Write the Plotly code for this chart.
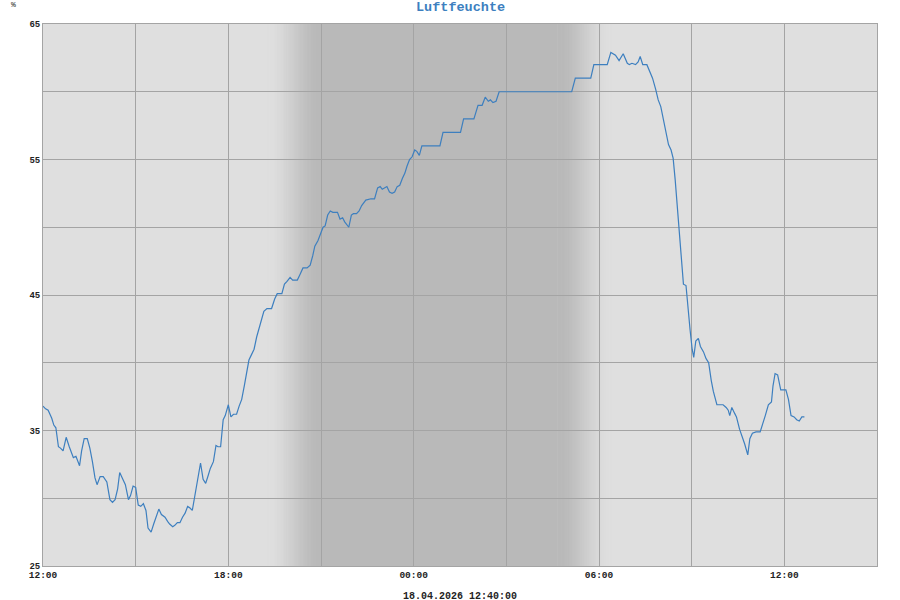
import pandas as pd
import plotly.graph_objects as go

# ---- data ----
start_time = "2026-04-17 12:00"
minutes = [0, 5, 10, 17, 21, 25, 30, 34, 39, 45, 51, 59, 64, 71, 75, 80, 86, 91, 96, 101,
           105, 111, 117, 124, 130, 135, 140, 145, 149, 155, 160, 166, 170, 175, 180, 185,
           190, 195, 200, 204, 210, 215, 221, 225, 230, 237, 242, 246, 252, 256, 261, 266,
           271, 276, 281, 285, 290, 295, 300, 306, 311, 316, 321, 325, 331, 336, 340, 345,
           350, 354, 360, 365, 370, 376, 381, 386, 391, 395, 400, 405, 410, 415, 420, 424,
           429, 435, 444, 450, 455, 464, 469, 474, 480, 485, 494, 499, 505, 513, 519, 524,
           528, 534, 539, 544, 548, 553, 558, 563, 572, 577, 582, 586, 594, 599, 603, 609,
           614, 619, 627, 637, 644, 650, 655, 659, 668, 673, 678, 683, 688, 693, 698, 703,
           707, 712, 717, 722, 726, 731, 736, 771, 777, 811, 817, 837, 845, 853, 859, 865,
           869, 874, 880, 886, 1027, 1034, 1064, 1070, 1096, 1103, 1112, 1119, 1127, 1135,
           1139, 1144, 1151, 1156, 1160, 1165, 1173, 1179, 1184, 1190, 1195, 1200, 1205,
           1210, 1215, 1220, 1224, 1228, 1232, 1236, 1240, 1244, 1249, 1253, 1257, 1261,
           1264, 1268, 1273, 1277, 1283, 1288, 1293, 1298, 1302, 1309, 1315, 1321, 1327,
           1331, 1334, 1338, 1343, 1347, 1353, 1358, 1363, 1369, 1373, 1378, 1385, 1393,
           1398, 1403, 1409, 1415, 1418, 1422, 1427, 1433, 1443, 1448, 1453, 1459, 1464,
           1469, 1474, 1479]
humidity = [36.8, 36.6, 36.5, 35.9, 35.4, 35.2, 33.8, 33.7, 33.5, 34.5, 33.8, 33.0, 33.1, 32.4,
            33.5, 34.4, 34.4, 33.7, 32.7, 31.5, 31.0, 31.6, 31.6, 31.2, 29.9, 29.7, 29.9, 30.7,
            31.9, 31.4, 31.0, 29.9, 30.2, 30.9, 30.8, 29.5, 29.4, 29.6, 29.1, 27.8, 27.5, 28.1,
            28.8, 29.2, 28.8, 28.6, 28.3, 28.1, 27.9, 28.0, 28.2, 28.2, 28.6, 28.9, 29.4, 29.3,
            29.1, 30.3, 31.2, 32.6, 31.4, 31.1, 31.7, 32.2, 32.7, 33.9, 33.8, 33.8, 35.8, 36.1,
            36.9, 36.0, 36.2, 36.2, 36.8, 37.3, 38.3, 39.1, 40.2, 40.6, 41.0, 41.9, 42.6, 43.2,
            43.8, 44.0, 44.0, 44.7, 45.1, 45.1, 45.8, 46.0, 46.3, 46.1, 46.1, 46.5, 47.0, 47.0,
            47.2, 47.9, 48.6, 49.0, 49.5, 50.0, 50.1, 50.9, 51.2, 51.1, 51.1, 50.6, 50.7, 50.4,
            50.0, 50.9, 51.0, 51.0, 51.2, 51.6, 52.0, 52.1, 52.1, 52.9, 53.0, 52.8, 53.0, 52.6,
            52.5, 52.6, 53.0, 53.1, 53.6, 54.0, 54.5, 55.0, 55.2, 55.7, 55.6, 55.3, 56.0, 56.0,
            57.0, 57.0, 58.0, 58.0, 59.0, 59.0, 59.6, 59.3, 59.4, 59.2, 59.3, 60.0, 60.0, 61.0,
            61.0, 62.0, 62.0, 62.9, 62.7, 62.3, 62.8, 62.1, 62.0, 62.1, 62.0, 62.2, 62.6, 62.0,
            62.0, 61.5, 61.0, 60.2, 59.4, 58.9, 57.9, 57.1, 56.1, 55.7, 55.1, 53.5, 51.5, 49.6,
            47.8, 45.8, 45.7, 43.7, 42.4, 41.0, 40.4, 41.6, 41.8, 41.2, 40.8, 40.3, 40.0, 38.7,
            37.9, 36.9, 36.9, 36.9, 36.7, 36.5, 36.1, 36.7, 36.3, 36.0, 35.1, 34.6, 34.0, 33.2,
            34.4, 34.8, 34.9, 34.9, 35.6, 36.1, 36.9, 37.1, 38.3, 39.2, 39.1, 38.0, 38.0, 37.3,
            36.1, 36.0, 35.8, 35.7, 36.0, 36.0]

x_tick_times = ["2026-04-17 12:00", "2026-04-17 15:00", "2026-04-17 18:00", "2026-04-17 21:00",
                "2026-04-18 00:00", "2026-04-18 03:00", "2026-04-18 06:00", "2026-04-18 09:00",
                "2026-04-18 12:00"]
x_tick_labels = ["12:00", "", "18:00", "", "00:00", "", "06:00", "", "12:00"]
y_tick_vals = [25, 30, 35, 40, 45, 50, 55, 60, 65]
y_tick_labels = ["25", "", "35", "", "45", "", "55", "", "65"]

title_text = "Luftfeuchte"
unit_text = "%"
stamp_text = "18.04.2026 12:40:00"

# ---- figure ----
t0 = pd.Timestamp(start_time)
times = [t0 + pd.Timedelta(minutes=m) for m in minutes]

x_start = pd.Timestamp("2026-04-17 12:00")
x_end = pd.Timestamp("2026-04-18 15:00")

LIGHT = 223
DARK = 185

shapes = []


def gray(level):
    v = int(round(level))
    return f"rgb({v},{v},{v})"


dusk_a, dusk_b = pd.Timestamp("2026-04-17 19:15"), pd.Timestamp("2026-04-17 21:00")
dawn_a, dawn_b = pd.Timestamp("2026-04-18 04:40"), pd.Timestamp("2026-04-18 06:25")

# solid dark core; gradients overlay it
shapes.append(dict(type="rect", xref="x", yref="paper", x0=dusk_b, x1=dawn_a,
                   y0=0, y1=1, fillcolor=gray(DARK), line_width=0, layer="below"))

N = 90
for i in range(N):
    f = (i + 0.5) / N
    s = f * f * (3 - 2 * f)
    lvl = LIGHT + (DARK - LIGHT) * s
    x0 = dusk_a + (dusk_b - dusk_a) * (i / N)
    shapes.append(dict(type="rect", xref="x", yref="paper", x0=x0, x1=dusk_b,
                       y0=0, y1=1, fillcolor=gray(lvl), line_width=0, layer="below"))
for i in range(N):
    f = (i + 0.5) / N
    s = f * f * (3 - 2 * f)
    lvl = LIGHT + (DARK - LIGHT) * s
    x1 = dawn_b - (dawn_b - dawn_a) * (i / N)
    shapes.append(dict(type="rect", xref="x", yref="paper", x0=dawn_a, x1=x1,
                       y0=0, y1=1, fillcolor=gray(lvl), line_width=0, layer="below"))

fig = go.Figure()
fig.add_trace(go.Scatter(x=times, y=humidity, mode="lines",
                         line=dict(color="#3d7fbf", width=1.2),
                         hoverinfo="skip", showlegend=False))

font_mono = "Liberation Mono, Courier New, monospace"

fig.update_layout(
    width=900, height=600,
    margin=dict(l=43, r=23, t=24, b=34),
    paper_bgcolor="white",
    plot_bgcolor=gray(LIGHT),
    shapes=shapes,
    showlegend=False,
    font=dict(family=font_mono, color="#222222"),
    xaxis=dict(
        type="date",
        range=[x_start, x_end],
        tickmode="array",
        tickvals=[pd.Timestamp(t) for t in x_tick_times],
        ticktext=x_tick_labels,
        showgrid=True, gridcolor="#a4a4a4", gridwidth=1,
        showline=True, mirror=True, linecolor="#a4a4a4", linewidth=1,
        ticks="", zeroline=False,
        tickfont=dict(family=font_mono, size=9.5, color="#222222", weight="bold"),
    ),
    yaxis=dict(
        range=[25, 65],
        tickmode="array",
        tickvals=y_tick_vals,
        ticktext=y_tick_labels,
        showgrid=True, gridcolor="#a4a4a4", gridwidth=1,
        showline=True, mirror=True, linecolor="#a4a4a4", linewidth=1,
        ticks="", zeroline=False,
        tickfont=dict(family=font_mono, size=9, color="#222222", weight="bold"),
    ),
    annotations=[
        dict(text=title_text, x=0.5, y=1, xref="paper", yref="paper", xanchor="center",
             yanchor="bottom", yshift=7, showarrow=False,
             font=dict(family=font_mono, size=13.5, color="#3d7fbf", weight="bold")),
        dict(text=unit_text, x=-30 / 834, y=1 + 19 / 542, xref="paper", yref="paper",
             xanchor="center", yanchor="middle", showarrow=False,
             font=dict(family=font_mono, size=8, color="#222222")),
        dict(text=stamp_text, x=0.5, y=0, xref="paper", yref="paper", xanchor="center",
             yanchor="top", yshift=-23, showarrow=False,
             font=dict(family=font_mono, size=10, color="#222222", weight="bold")),
    ],
)

fig.write_html("out.html",
               config={"displayModeBar": False},
               post_script="document.body.style.margin='0';document.body.style.padding='0';")
